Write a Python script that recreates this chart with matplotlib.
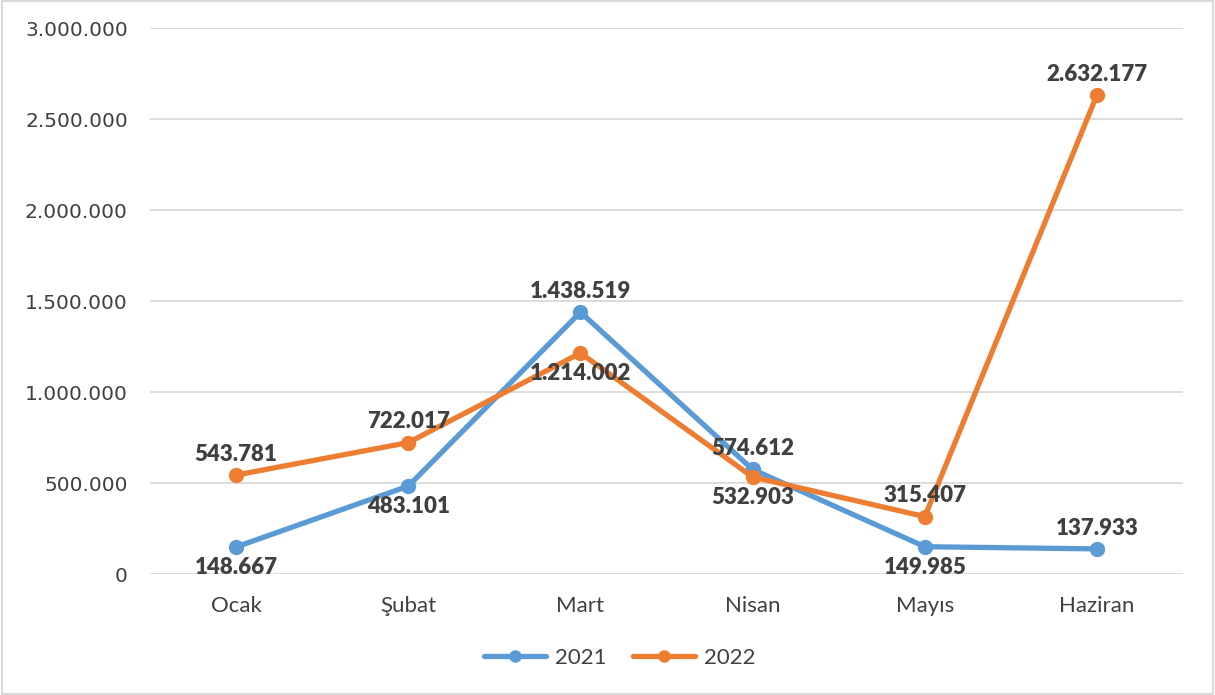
import matplotlib.pyplot as plt
from matplotlib.patches import Rectangle
from matplotlib.ticker import FuncFormatter

# ── data ─────────────────────────────────────────
months = ['Ocak', 'Şubat', 'Mart', 'Nisan', 'Mayıs', 'Haziran']
y2021 = [148667, 483101, 1438519, 574612, 149985, 137933]
y2022 = [543781, 722017, 1214002, 532903, 315407, 2632177]
# label position: 1 = above point, -1 = below point
pos2021 = [-1, -1, 1, 1, -1, 1]
pos2022 = [1, 1, -1, -1, 1, 1]

def tr(n):
    return f'{int(n):,}'.replace(',', '.')

fig = plt.figure(figsize=(12.15, 6.95), dpi=100)
ax = fig.add_axes([0.1235, 0.1741, 0.8502, 0.7856])

x = list(range(len(months)))
ax.plot(x, y2021, color='#5b9bd5', lw=3.8, marker='o', ms=10, label='2021',
        solid_capstyle='round', zorder=3)
ax.plot(x, y2022, color='#ed7d31', lw=3.8, marker='o', ms=10, label='2022',
        solid_capstyle='round', zorder=3)

for ys, ps in ((y2021, pos2021), (y2022, pos2022)):
    for i, (v, p) in enumerate(zip(ys, ps)):
        ax.annotate(tr(v), (i, v), xytext=(0, 15 * p), textcoords='offset points',
                    ha='center', va='center', fontsize=16, fontweight='heavy',
                    family='Lato', color='#404040', zorder=4)

ax.set_xlim(-0.5, 5.5)
ax.set_ylim(0, 3000000)
ax.set_yticks(range(0, 3000001, 500000))
ax.yaxis.set_major_formatter(FuncFormatter(lambda v, _: tr(v)))
ax.set_xticks(x)
ax.set_xticklabels(months, family='Lato', fontsize=16)
ax.tick_params(axis='y', length=0, pad=16, labelsize=14.5, labelcolor='#404040')
ax.tick_params(axis='x', length=0, pad=16, labelcolor='#404040')
ax.grid(axis='y', color='#d9d9d9', lw=1.3)
ax.set_axisbelow(True)
for s in ax.spines.values():
    s.set_visible(False)

leg = fig.legend(loc='lower center', bbox_to_anchor=(0.51, 0.01), ncol=2,
                 frameon=False, handlelength=2.8, handletextpad=0.4,
                 columnspacing=1.2, markerscale=0.8,
                 prop={'family': 'Lato', 'size': 16})
for t in leg.get_texts():
    t.set_color('#404040')

fig.add_artist(Rectangle((0.002, 0.002), 0.996, 0.996, transform=fig.transFigure,
                         fill=False, edgecolor='#d9d9d9', lw=1.5))

plt.savefig('out.png', dpi=100)
